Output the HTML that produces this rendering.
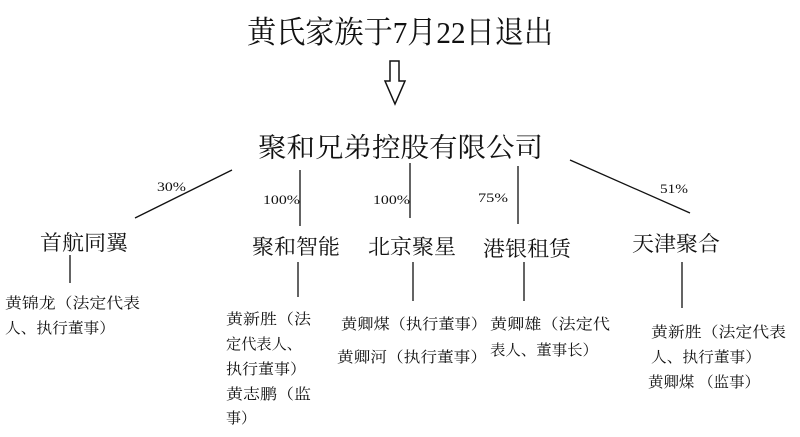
<!DOCTYPE html>
<html><head><meta charset="utf-8"><style>
html,body{margin:0;padding:0;background:#fff;}
svg{display:block;}
text{font-family:"Liberation Serif","Noto Serif CJK SC",serif;fill:#111;}
.s{font-size:15px;}
.n{font-size:21px;}
.p{font-size:13px;}
</style></head><body>
<svg width="800" height="437" viewBox="0 0 800 437" xmlns="http://www.w3.org/2000/svg">
<text x="247" y="43" style="font-size:31px" textLength="306" lengthAdjust="spacingAndGlyphs">黄氏家族于7月22日退出</text>
<polygon points="390,61 399,61 399,81 405,81 395,104 385,81 390,81" fill="none" stroke="#111" stroke-width="1.5"/>
<text x="258" y="157" style="font-size:27px" textLength="285" lengthAdjust="spacingAndGlyphs">聚和兄弟控股有限公司</text>
<g stroke="#111" stroke-width="1.3">
<line x1="232" y1="170" x2="135" y2="218"/>
<line x1="300" y1="170" x2="300" y2="226"/>
<line x1="410" y1="163" x2="410" y2="218"/>
<line x1="518" y1="166" x2="518" y2="224"/>
<line x1="570" y1="160" x2="690" y2="213"/>
<line x1="70" y1="255" x2="70" y2="283"/>
<line x1="298" y1="262" x2="298" y2="297"/>
<line x1="413" y1="262" x2="413" y2="301"/>
<line x1="524" y1="262" x2="524" y2="301"/>
<line x1="682" y1="262" x2="682" y2="308"/>
</g>
<text class="p" x="157" y="191" textLength="29" lengthAdjust="spacingAndGlyphs">30%</text>
<text class="p" x="263" y="204" textLength="37" lengthAdjust="spacingAndGlyphs">100%</text>
<text class="p" x="373" y="204" textLength="37" lengthAdjust="spacingAndGlyphs">100%</text>
<text class="p" x="478" y="202" textLength="30" lengthAdjust="spacingAndGlyphs">75%</text>
<text class="p" x="660" y="193" textLength="28" lengthAdjust="spacingAndGlyphs">51%</text>
<text class="n" x="40" y="250" textLength="88" lengthAdjust="spacingAndGlyphs">首航同翼</text>
<text class="n" x="252" y="254" textLength="88" lengthAdjust="spacingAndGlyphs">聚和智能</text>
<text class="n" x="368" y="254" textLength="88" lengthAdjust="spacingAndGlyphs">北京聚星</text>
<text class="n" x="483" y="256" textLength="88" lengthAdjust="spacingAndGlyphs">港银租赁</text>
<text class="n" x="632" y="251" textLength="88" lengthAdjust="spacingAndGlyphs">天津聚合</text>
<text class="s" x="5" y="308" textLength="135" lengthAdjust="spacingAndGlyphs">黄锦龙（法定代表</text>
<text class="s" x="5" y="333" textLength="110" lengthAdjust="spacingAndGlyphs">人、执行董事）</text>
<text class="s" x="226" y="324" textLength="85" lengthAdjust="spacingAndGlyphs">黄新胜（法</text>
<text class="s" x="226" y="349" textLength="76" lengthAdjust="spacingAndGlyphs">定代表人、</text>
<text class="s" x="226" y="374" textLength="80" lengthAdjust="spacingAndGlyphs">执行董事）</text>
<text class="s" x="226" y="399" textLength="85" lengthAdjust="spacingAndGlyphs">黄志鹏（监</text>
<text class="s" x="226" y="423" textLength="30" lengthAdjust="spacingAndGlyphs">事）</text>
<text class="s" x="341" y="329" textLength="146" lengthAdjust="spacingAndGlyphs">黄卿煤（执行董事）</text>
<text class="s" x="337" y="362" textLength="150" lengthAdjust="spacingAndGlyphs">黄卿河（执行董事）</text>
<text class="s" x="490" y="329" textLength="120" lengthAdjust="spacingAndGlyphs">黄卿雄（法定代</text>
<text class="s" x="490" y="355" textLength="108" lengthAdjust="spacingAndGlyphs">表人、董事长）</text>
<text class="s" x="651" y="337" textLength="135" lengthAdjust="spacingAndGlyphs">黄新胜（法定代表</text>
<text class="s" x="651" y="362" textLength="110" lengthAdjust="spacingAndGlyphs">人、执行董事）</text>
<text class="s" x="648" y="387" textLength="112" lengthAdjust="spacingAndGlyphs">黄卿煤 （监事）</text>
</svg>
</body></html>
